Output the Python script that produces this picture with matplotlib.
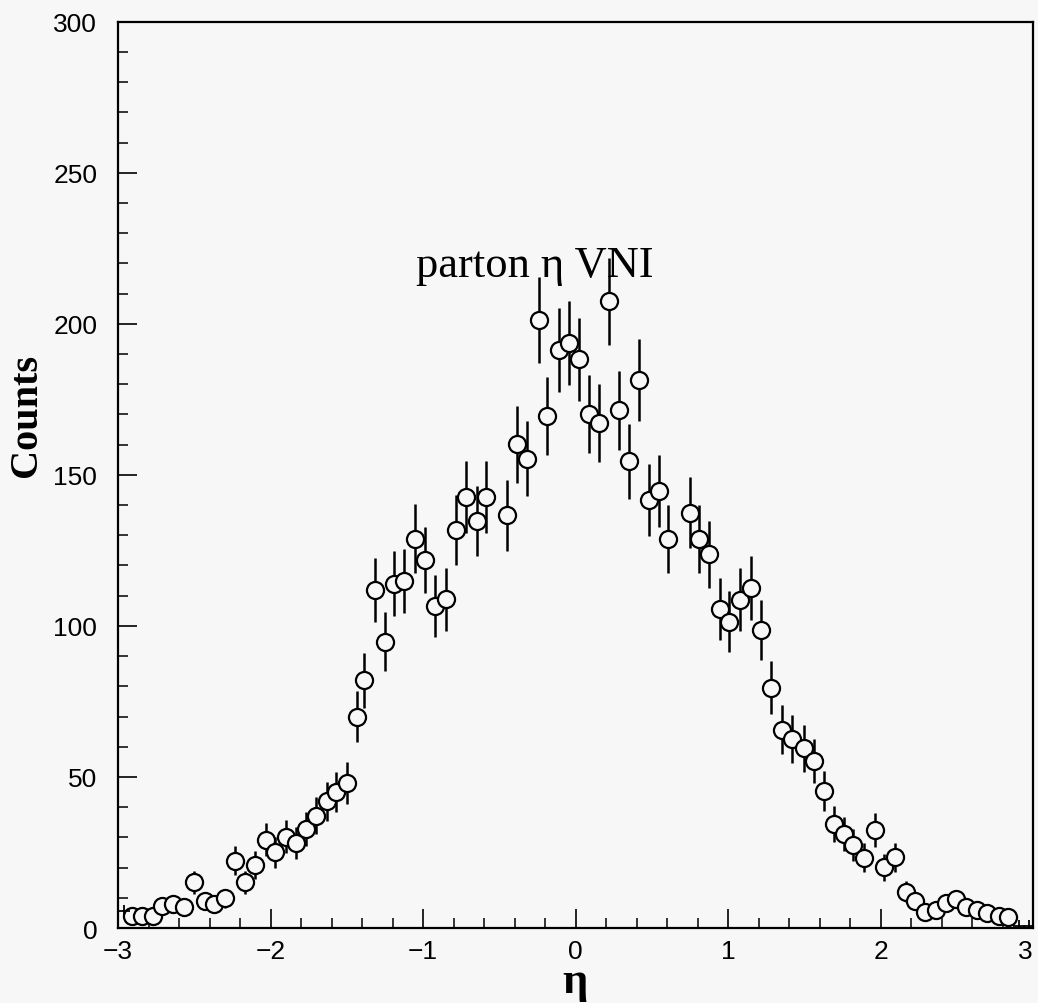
import matplotlib
matplotlib.use("Agg")
import matplotlib.pyplot as plt
from matplotlib.ticker import MultipleLocator

# ---- data ----
eta = [-2.91, -2.84, -2.77, -2.71, -2.64, -2.57, -2.50, -2.43, -2.37, -2.30,
       -2.23, -2.17, -2.10, -2.03, -1.97, -1.90, -1.83, -1.77, -1.70, -1.63,
       -1.57, -1.50,
       -1.436, -1.386, -1.318, -1.248, -1.189, -1.123, -1.05, -0.985, -0.919, -0.849,
       -0.787, -0.717, -0.647, -0.586,
       -0.449, -0.384, -0.316, -0.241, -0.184, -0.110, -0.042,
       0.020, 0.088, 0.156, 0.219, 0.285, 0.353, 0.416, 0.482, 0.548, 0.605,
       0.750, 0.809, 0.877, 0.950, 1.009, 1.081, 1.152, 1.213, 1.283, 1.355,
       1.417, 1.495,
       1.564, 1.630, 1.695, 1.761, 1.820, 1.893, 1.965, 2.024, 2.097, 2.167,
       2.226, 2.294, 2.364, 2.430, 2.496, 2.560, 2.630, 2.700, 2.776, 2.836]

counts = [4.1, 4.0, 4.0, 7.2, 7.9, 6.8, 15.1, 9.0, 7.9, 9.8,
          22.3, 15.1, 20.8, 29.2, 25.0, 30.2, 28.1, 32.7, 37.2, 41.9,
          45.1, 47.9,
          70.0, 82.0, 111.9, 94.8, 114.0, 114.9, 128.9, 121.8, 106.6, 108.8,
          131.7, 142.7, 134.6, 142.7,
          136.6, 160.1, 155.4, 201.2, 169.5, 191.3, 193.5,
          188.2, 170.2, 167.3, 207.4, 171.4, 154.5, 181.4, 141.6, 144.6, 128.7,
          137.5, 128.7, 123.7, 105.5, 101.4, 108.6, 112.7, 98.6, 79.6, 65.6,
          62.5, 59.5,
          55.3, 45.4, 34.4, 31.1, 27.5, 23.2, 32.4, 20.1, 23.4, 12.0,
          9.0, 5.2, 5.9, 8.3, 9.6, 6.8, 5.9, 5.0, 4.1, 3.8]

errors = [2.0, 2.0, 2.0, 2.7, 2.8, 2.6, 3.9, 3.0, 2.8, 3.1,
          4.7, 3.9, 4.6, 5.4, 5.0, 5.5, 5.3, 5.7, 6.1, 6.5,
          6.7, 6.9,
          8.4, 9.1, 10.6, 9.7, 10.7, 10.7, 11.4, 11.0, 10.3, 10.4,
          11.5, 11.9, 11.6, 11.9,
          11.7, 12.7, 12.5, 14.2, 13.0, 13.8, 13.9,
          13.7, 13.0, 12.9, 14.4, 13.1, 12.4, 13.5, 11.9, 12.0, 11.3,
          11.7, 11.3, 11.1, 10.3, 10.1, 10.4, 10.6, 9.9, 8.9, 8.1,
          7.9, 7.7,
          7.4, 6.7, 5.9, 5.6, 5.2, 4.8, 5.7, 4.5, 4.8, 3.5,
          3.0, 2.3, 2.4, 2.9, 3.1, 2.6, 2.4, 2.2, 2.0, 1.9]

plus_eta = [-2.96, 2.91, 2.975]
plus_counts = [5.5, 0.8, 0.5]

x_ticks = [-3, -2, -1, 0, 1, 2, 3]
y_ticks = [0, 50, 100, 150, 200, 250, 300]

bg = "#f7f7f7"
fig = plt.figure(figsize=(10.38, 10.04), dpi=100, facecolor=bg)
ax = fig.add_axes([0.1137, 0.0747, 0.8815, 0.9027], facecolor=bg)

ax.errorbar(eta, counts, yerr=errors, fmt="none", ecolor="black",
            elinewidth=1.8, capsize=0, zorder=2)
ax.plot(eta, counts, linestyle="none", marker="o", markersize=12.3,
        markerfacecolor=bg, markeredgecolor="black", markeredgewidth=1.6, zorder=3)
ax.plot(plus_eta, plus_counts, linestyle="none", marker="+", markersize=9,
        markeredgecolor="black", markeredgewidth=1.3, zorder=3)

ax.set_xlim(-3, 3)
ax.set_ylim(0, 300)
ax.set_xticks(x_ticks)
ax.set_xticklabels(["\u22123", "\u22122", "\u22121", "0", "1", "2", "3"])
ax.set_yticks(y_ticks)
ax.set_yticklabels([str(v) for v in y_ticks])
ax.xaxis.set_minor_locator(MultipleLocator(0.2))
ax.yaxis.set_minor_locator(MultipleLocator(10))

ax.tick_params(axis="both", which="major", direction="in", length=14, width=1.2,
               labelsize=19, top=False, right=False)
ax.tick_params(axis="both", which="minor", direction="in", length=7, width=1.1,
               top=False, right=False)
ax.tick_params(axis="y", which="major", pad=15)
ax.tick_params(axis="x", which="major", pad=8)
for lab in ax.get_xticklabels() + ax.get_yticklabels():
    lab.set_family("Liberation Sans")
ax.get_xticklabels()[-1].set_horizontalalignment("right")

for sp in ax.spines.values():
    sp.set_linewidth(1.6)
    sp.set_color("black")

ax.text(0.456, 0.731, "parton \u03b7 VNI", transform=ax.transAxes, ha="center",
        va="center", fontsize=32, family="Liberation Serif")

fig.text(0.026, 1 - 415 / 1004, "Counts", rotation=90, ha="center", va="center",
         fontsize=29, family="Liberation Serif", fontweight="bold")
fig.text(575 / 1038, 1 - 982 / 1004, "\u03b7", ha="center", va="center",
         fontsize=32, family="Liberation Serif", fontweight="bold")

fig.savefig("out.png", dpi=100, facecolor=bg)
